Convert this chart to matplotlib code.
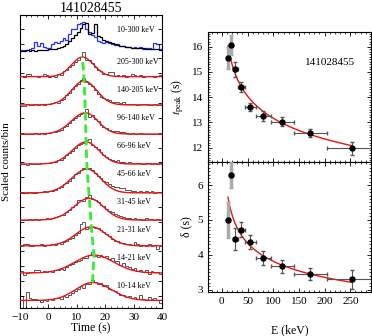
import numpy as np
import matplotlib.pyplot as plt
from matplotlib.ticker import MultipleLocator

plt.rcParams['font.family'] = ['Liberation Serif', 'DejaVu Serif']
plt.rcParams['mathtext.fontset'] = 'stix'

# energy channels (bottom to top of the light-curve stack)
e_lo = [10, 14, 21, 31, 45, 66, 96, 140, 205]
e_hi = [14, 21, 31, 45, 66, 96, 140, 205, 300]
chan_labels = ['10-14 keV', '14-21 keV', '21-31 keV', '31-45 keV', '45-66 keV',
               '66-96 keV', '96-140 keV', '140-205 keV', '205-300 keV']
total_label = '10-300 keV'

# fitted peak time and width per channel
t_peak = [15.55, 16.07, 15.10, 14.40, 13.60, 13.25, 13.02, 12.58, 11.97]
t_peak_err = [0.45, 0.40, 0.30, 0.20, 0.15, 0.20, 0.18, 0.17, 0.27]
delta = [5.00, 6.30, 4.45, 4.72, 4.38, 3.90, 3.67, 3.45, 3.30]
delta_err = [0.52, 0.38, 0.32, 0.21, 0.20, 0.20, 0.18, 0.17, 0.27]

# pulse model per channel (scaled units)
amp = [0.64, 0.64, 0.68, 0.78, 0.85, 0.79, 0.76, 0.86, 0.70]
bkg = [0.02, 0.00, -0.03, -0.11, -0.14, -0.11, -0.04, 0.00, 0.01]
sig_rise = [6.0, 6.8, 5.5, 5.5, 5.5, 5.0, 5.0, 4.5, 3.8]
sig_decay = [6.6, 7.0, 5.3, 5.0, 4.8, 4.6, 4.4, 4.4, 4.0]

# power-law fits  y = A * E^-k
tpeak_fit = (20.2, 0.093)
delta_fit = (8.95, 0.185)

# 1-s binned light curves, -10 .. 40 s
time_edges = np.arange(-10, 41, 1)
lc = [
    [0.18, -0.30, 0.33, 0.12, 0.06, 0.08, 0.02, -0.02, 0.05, 0.00,
     0.06, 0.02, 0.10, 0.12, 0.08, 0.18, 0.16, 0.22, 0.30, 0.35,
     0.42, 0.52, 0.48, 0.60, 0.62, 0.74, 0.68, 0.62, 0.66, 0.55,
     0.58, 0.44, 0.40, 0.34, 0.30, 0.20, 0.22, 0.14, 0.18, 0.10,
     0.14, 0.06, 0.20, 0.08, 0.04, 0.16, 0.06, 0.10, 0.02, -0.06],
    [0.06, -0.06, 0.00, 0.04, 0.02, 0.10, 0.10, 0.04, 0.06, 0.02,
     0.08, 0.04, 0.12, 0.10, 0.16, 0.12, 0.22, 0.28, 0.32, 0.40,
     0.42, 0.48, 0.54, 0.52, 0.66, 0.76, 0.62, 0.58, 0.64, 0.58,
     0.62, 0.50, 0.54, 0.42, 0.44, 0.30, 0.34, 0.24, 0.20, 0.16,
     0.18, 0.08, 0.10, 0.04, 0.12, -0.02, 0.06, 0.02, 0.05, -0.03],
    [-0.02, 0.04, 0.05, -0.02, -0.04, 0.00, -0.01, 0.02, -0.03, 0.01,
     0.00, 0.04, 0.01, 0.06, 0.04, 0.10, 0.16, 0.22, 0.26, 0.36,
     0.44, 0.76, 0.82, 0.56, 0.62, 0.66, 0.60, 0.62, 0.52, 0.46,
     0.38, 0.32, 0.20, 0.16, 0.14, 0.08, 0.06, 0.02, 0.04, 0.00,
     0.10, 0.02, -0.02, 0.01, -0.04, 0.02, -0.02, -0.01, -0.16, -0.04],
    [-0.12, -0.10, -0.11, -0.09, -0.10, -0.08, -0.10, -0.07, -0.08, -0.05,
     -0.06, -0.04, -0.01, 0.02, 0.06, 0.08, 0.16, 0.24, 0.34, 0.42,
     0.60, 0.62, 0.58, 0.70, 0.78, 0.64, 0.60, 0.52, 0.42, 0.38,
     0.30, 0.22, 0.16, 0.10, 0.08, 0.02, 0.00, -0.04, -0.02, -0.06,
     -0.04, -0.08, -0.06, -0.10, -0.04, -0.08, -0.07, -0.12, -0.09, -0.11],
    [-0.15, -0.13, -0.16, -0.12, -0.14, -0.13, -0.10, -0.12, -0.08, -0.10,
     -0.06, -0.08, -0.02, 0.02, 0.06, 0.16, 0.22, 0.30, 0.40, 0.52,
     0.58, 0.66, 0.74, 0.72, 0.76, 0.66, 0.56, 0.48, 0.40, 0.30,
     0.24, 0.18, 0.12, 0.06, 0.08, 0.02, 0.04, -0.04, -0.02, -0.08,
     -0.06, -0.10, -0.07, -0.12, -0.09, -0.11, -0.08, -0.13, -0.10, -0.12],
    [-0.12, -0.10, -0.13, -0.09, -0.11, -0.10, -0.12, -0.08, -0.09, -0.07,
     -0.08, -0.04, -0.03, 0.02, 0.04, 0.12, 0.20, 0.30, 0.36, 0.48,
     0.58, 0.62, 0.64, 0.74, 0.80, 0.56, 0.50, 0.42, 0.32, 0.22,
     0.14, 0.08, 0.04, 0.00, 0.02, -0.04, -0.02, -0.06, -0.05, -0.08,
     -0.06, -0.09, -0.07, -0.10, -0.08, -0.09, -0.11, -0.08, -0.10, -0.09],
    [-0.04, -0.02, -0.05, -0.03, -0.04, -0.01, -0.03, 0.00, -0.02, 0.01,
     -0.01, 0.03, 0.02, 0.08, 0.12, 0.20, 0.26, 0.36, 0.45, 0.52,
     0.60, 0.66, 0.72, 0.86, 0.56, 0.64, 0.50, 0.42, 0.30, 0.22,
     0.16, 0.10, 0.06, 0.08, 0.08, 0.04, 0.02, 0.00, -0.02, 0.00,
     -0.02, -0.03, -0.01, -0.04, -0.02, -0.03, -0.04, -0.02, -0.05, -0.03],
    [-0.05, -0.04, 0.02, 0.00, 0.01, 0.03, 0.00, 0.02, 0.01, 0.04,
     0.02, 0.06, 0.09, 0.08, 0.18, 0.22, 0.36, 0.42, 0.58, 0.66,
     0.74, 0.90, 0.96, 0.82, 0.74, 0.66, 0.52, 0.40, 0.30, 0.24,
     0.20, 0.16, 0.12, 0.10, 0.12, 0.06, 0.10, 0.04, 0.03, 0.05,
     0.02, 0.00, 0.03, 0.02, 0.04, 0.01, 0.00, 0.02, 0.01, 0.00],
    [0.02, 0.00, 0.12, 0.10, 0.04, 0.02, -0.02, 0.03, 0.10, 0.08,
     0.01, 0.05, 0.00, 0.10, 0.06, 0.20, 0.24, 0.34, 0.42, 0.55,
     0.62, 0.72, 0.90, 0.62, 0.60, 0.50, 0.36, 0.24, 0.22, 0.12,
     0.10, 0.16, 0.16, 0.04, 0.08, 0.02, 0.06, 0.00, 0.03, 0.10,
     0.06, 0.02, 0.08, 0.00, 0.05, 0.02, 0.04, 0.00, 0.03, 0.06],
]
lc_total = [-0.06, -0.08, -0.05, -0.07, -0.04, -0.06, -0.04, -0.05, -0.03, -0.04,
            -0.02, 0.00, 0.01, 0.04, 0.08, 0.12, 0.18, 0.30, 0.40, 0.50,
            0.62, 0.76, 0.88, 0.92, 0.52, 0.56, 0.90, 0.46, 0.42, 0.33,
            0.28, 0.24, 0.20, 0.16, 0.14, 0.11, 0.09, 0.08, 0.06, 0.05,
            0.04, 0.03, 0.02, 0.02, 0.01, 0.00, -0.01, 0.00, -0.02, -0.04]
lc_total_blue = [-0.04, -0.03, -0.05, -0.02, 0.02, 0.24, 0.10, 0.20, 0.08, 0.02,
                 0.04, 0.18, 0.24, 0.22, 0.28, 0.38, 0.32, 0.54, 0.70, 0.72,
                 0.88, 0.94, 0.96, 0.72, 0.62, 0.48, 0.44, 0.30, 0.24, 0.22,
                 0.24, 0.20, 0.18, 0.14, 0.16, 0.10, 0.12, 0.06, 0.08, 0.04,
                 0.08, 0.02, 0.06, 0.00, 0.04, 0.02, 0.00, 0.20, 0.16, -0.02]


def pulse(t, a, b, tp, sr, sd):
    s = np.where(t < tp, sr, sd)
    return b + a * np.exp(-0.5 * ((t - tp) / s) ** 2)


fig = plt.figure(figsize=(3.72, 3.36), dpi=100)

# ---- left: stacked light curves
ax = fig.add_axes([0.0538, 0.0833, 0.3817, 0.8720])
tt = np.linspace(-10, 40, 400)
n = len(lc)
peak_y = []
for k in range(n):
    ax.stairs(np.array(lc[k]) + k, time_edges, baseline=None,
              color='#555555', lw=0.7)
    ax.plot(tt, pulse(tt, amp[k], bkg[k], t_peak[k], sig_rise[k], sig_decay[k]) + k,
            color='#ee1111', lw=1.0, zorder=3)
    peak_y.append(k + bkg[k] + amp[k])
    ax.text(24.3, k + 0.52, chan_labels[k], fontsize=5.8, ha='left', va='center')
ax.stairs(np.array(lc_total_blue) + n, time_edges, baseline=None, color='#2233ff', lw=0.9)
ax.stairs(np.array(lc_total) + n, time_edges, baseline=None, color='k', lw=0.9)
ax.text(24.3, n + 0.68, total_label, fontsize=5.8, ha='left', va='center')
ax.plot(t_peak, peak_y, color='#33ee33', lw=2, ls=(0, (3, 1.5)), zorder=4)

ax.set_xlim(-10, 40)
ax.set_ylim(-0.25, 10.21)
ax.xaxis.set_major_locator(MultipleLocator(10))
ax.xaxis.set_minor_locator(MultipleLocator(2))
ax.set_yticks(np.arange(0.18, 10.2, 0.53))
ax.set_yticklabels([])
ax.tick_params(which='both', direction='in', top=True, right=True, labelsize=8)
ax.tick_params(which='major', length=3, width=0.6)
ax.tick_params(which='minor', length=1.5, width=0.5)
ax.set_xlabel('Time (s)', fontsize=8.5, labelpad=0)
ax.set_ylabel('Scaled counts/bin', fontsize=8, labelpad=3)
ax.set_title('141028455', fontsize=10, pad=1)

# ---- right: t_peak and delta vs energy
e_mid = [(lo + hi) / 2 for lo, hi in zip(e_lo, e_hi)]
e_err = [(hi - lo) / 2 for lo, hi in zip(e_lo, e_hi)]
ee = np.linspace(e_mid[0], e_mid[-1], 300)

ax_tp = fig.add_axes([0.559, 0.518, 0.438, 0.387])
ax_dl = fig.add_axes([0.559, 0.131, 0.438, 0.387], sharex=ax_tp)

for a_, y, yerr, fit in [(ax_tp, t_peak, t_peak_err, tpeak_fit),
                         (ax_dl, delta, delta_err, delta_fit)]:
    a_.plot(ee, fit[0] * ee ** (-fit[1]), color='#ee1111', lw=1.0, zorder=2)
    a_.errorbar(e_mid[:2], y[:2], yerr=yerr[:2], xerr=e_err[:2], fmt='none',
                ecolor='#aaaaaa', elinewidth=2.5, capsize=1.5, zorder=3)
    a_.errorbar(e_mid[2:], y[2:], yerr=yerr[2:], xerr=e_err[2:], fmt='none',
                ecolor='#555555', elinewidth=0.8, capsize=1.5, zorder=3)
    a_.plot(e_mid, y, 'o', color='k', ms=3.6, zorder=4)
    a_.xaxis.set_major_locator(MultipleLocator(50))
    a_.xaxis.set_minor_locator(MultipleLocator(10))
    a_.yaxis.set_major_locator(MultipleLocator(1))
    a_.yaxis.set_minor_locator(MultipleLocator(0.1))
    a_.tick_params(which='both', direction='in', top=True, right=True, labelsize=8)
    a_.tick_params(which='major', length=3, width=0.6)
    a_.tick_params(which='minor', length=1.5, width=0.5)

ax_tp.set_xlim(-27, 290)
ax_tp.set_ylim(11.43, 16.58)
ax_dl.set_ylim(2.94, 6.66)
ax_tp.tick_params(labelbottom=False)
ax_tp.set_ylabel(r'$t_{\rm peak}$ (s)', fontsize=8.5)
ax_dl.set_ylabel('δ (s)', fontsize=8.5)
ax_dl.set_xlabel('E (keV)', fontsize=8.5, labelpad=13)
ax_tp.text(210, 15.35, '141028455', fontsize=8, ha='center', va='center')

fig.savefig('out.png', dpi=100)
